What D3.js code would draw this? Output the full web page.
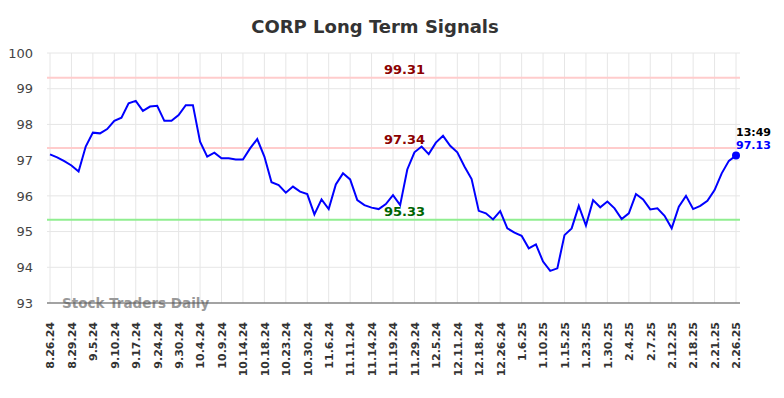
<!DOCTYPE html>
<html>
<head>
<meta charset="utf-8">
<script src="https://cdn.jsdelivr.net/npm/d3@7"></script>
<style>
  body { margin: 0; background: #fff; }
  svg { font-family: "DejaVu Sans", sans-serif; }
</style>
</head>
<body>
<div id="chart"></div>
<script>
// closing prices, one per session shown
var prices = [
  97.16, 97.08, 96.97, 96.85, 96.68, 97.38, 97.77, 97.75, 97.87, 98.10,
  98.19, 98.59, 98.66, 98.38, 98.50, 98.52, 98.10, 98.10, 98.26, 98.54,
  98.54, 97.52, 97.10, 97.21, 97.05, 97.05, 97.02, 97.02, 97.33, 97.59,
  97.10, 96.38, 96.30, 96.09, 96.26, 96.12, 96.05, 95.48, 95.90, 95.63,
  96.32, 96.63, 96.46, 95.88, 95.74, 95.67, 95.63, 95.77, 96.02, 95.74,
  96.74, 97.22, 97.38, 97.17, 97.49, 97.68, 97.40, 97.22, 96.82, 96.47,
  95.58, 95.51, 95.34, 95.57, 95.09, 94.97, 94.88, 94.53, 94.64, 94.16,
  93.90, 93.97, 94.90, 95.09, 95.72, 95.17, 95.88, 95.68, 95.84, 95.65,
  95.35, 95.51, 96.05, 95.90, 95.62, 95.65, 95.44, 95.09, 95.70, 96.00,
  95.63, 95.72, 95.86, 96.16, 96.63, 96.98, 97.13
];

// one label every third session
var tickLabels = [
  "8.26.24", "8.29.24", "9.5.24", "9.10.24", "9.17.24", "9.24.24", "9.30.24",
  "10.4.24", "10.9.24", "10.14.24", "10.18.24", "10.23.24", "10.30.24",
  "11.6.24", "11.11.24", "11.14.24", "11.19.24", "11.29.24", "12.5.24",
  "12.11.24", "12.18.24", "12.26.24", "1.6.25", "1.10.25", "1.15.25",
  "1.23.25", "1.30.25", "2.4.25", "2.7.25", "2.12.25", "2.18.25", "2.21.25",
  "2.26.25"
];

var yTicks = [93, 94, 95, 96, 97, 98, 99, 100];

var levels = [
  { value: 99.31, line: "#ffcccc", text: "#8b0000" },
  { value: 97.34, line: "#ffcccc", text: "#8b0000" },
  { value: 95.33, line: "#90ee90", text: "#006400" }
];

var lastTime = "13:49";

var W = 784, H = 398;
var margin = { top: 53, right: 44, bottom: 95, left: 47 };
var width = W - margin.left - margin.right,
    height = H - margin.top - margin.bottom;

var svg = d3.select("#chart").append("svg")
    .attr("width", W)
    .attr("height", H);

svg.append("text")
    .attr("x", 375)
    .attr("y", 33)
    .attr("text-anchor", "middle")
    .style("font-size", "18px")
    .style("font-weight", "bold")
    .style("fill", "#333")
    .text("CORP Long Term Signals");

var g = svg.append("g")
    .attr("transform", "translate(" + margin.left + "," + margin.top + ")");

var x = d3.scaleLinear()
    .domain([0, prices.length - 1])
    .range([3, width - 4]);

var y = d3.scaleLinear()
    .domain([93, 100])
    .range([height, 0]);

var tickIdx = tickLabels.map(function (d, i) { return i * 3; });

// grid
g.append("g").selectAll("line.v")
    .data(tickIdx)
    .enter().append("line")
    .attr("x1", function (d) { return x(d); })
    .attr("x2", function (d) { return x(d); })
    .attr("y1", 0)
    .attr("y2", height)
    .style("stroke", "#e6e6e6")
    .style("stroke-width", 1);

g.append("g").selectAll("line.h")
    .data(yTicks)
    .enter().append("line")
    .attr("x1", 0)
    .attr("x2", width)
    .attr("y1", function (d) { return y(d); })
    .attr("y2", function (d) { return y(d); })
    .style("stroke", "#e6e6e6")
    .style("stroke-width", 1);

// y labels
var yAxis = g.append("g")
    .call(d3.axisLeft(y).tickValues(yTicks).tickSize(0).tickPadding(14).tickFormat(d3.format("d")));
yAxis.select(".domain").remove();
yAxis.selectAll("text")
    .style("font-size", "13px")
    .style("fill", "#444")
    .style("font-family", "DejaVu Sans, sans-serif");

// x labels
var xAxis = g.append("g")
    .attr("transform", "translate(0," + height + ")")
    .call(d3.axisBottom(x).tickValues(tickIdx).tickSize(0)
        .tickFormat(function (d) { return tickLabels[d / 3]; }));
xAxis.select(".domain").remove();
xAxis.selectAll("text")
    .attr("transform", "rotate(-90)")
    .attr("text-anchor", "end")
    .attr("x", -19)
    .attr("y", 0)
    .attr("dy", "0.35em")
    .style("font-size", "11px")
    .style("font-weight", "bold")
    .style("fill", "#333")
    .style("font-family", "DejaVu Sans, sans-serif");

// watermark
g.append("text")
    .attr("x", 15)
    .attr("y", height + 5)
    .style("font-size", "13.5px")
    .style("font-weight", "bold")
    .style("fill", "#999")
    .text("Stock Traders Daily");

// bottom axis line
g.append("line")
    .attr("x1", 0)
    .attr("x2", width)
    .attr("y1", height)
    .attr("y2", height)
    .style("stroke", "#555")
    .style("stroke-width", 1.2);

// signal levels
g.selectAll("line.level")
    .data(levels)
    .enter().append("line")
    .attr("x1", 0)
    .attr("x2", width)
    .attr("y1", function (d) { return y(d.value); })
    .attr("y2", function (d) { return y(d.value); })
    .style("stroke", function (d) { return d.line; })
    .style("stroke-width", 2);

// price line
var line = d3.line()
    .x(function (d, i) { return x(i); })
    .y(function (d) { return y(d); });

g.append("path")
    .datum(prices)
    .attr("d", line)
    .style("fill", "none")
    .style("stroke", "#0000ff")
    .style("stroke-width", 2);

g.selectAll("text.level")
    .data(levels)
    .enter().append("text")
    .attr("x", 337)
    .attr("y", function (d) { return y(d.value) - 4; })
    .style("font-size", "13px")
    .style("font-weight", "bold")
    .style("fill", function (d) { return d.text; })
    .text(function (d) { return d.value.toFixed(2); });

var last = prices.length - 1;
g.append("circle")
    .attr("cx", x(last))
    .attr("cy", y(prices[last]))
    .attr("r", 4)
    .style("fill", "#0000ff");

g.append("text")
    .attr("x", x(last))
    .attr("y", y(prices[last]) - 20)
    .style("font-size", "11px")
    .style("font-weight", "bold")
    .style("fill", "#000")
    .text(lastTime);

g.append("text")
    .attr("x", x(last))
    .attr("y", y(prices[last]) - 7)
    .style("font-size", "11px")
    .style("font-weight", "bold")
    .style("fill", "#0000ff")
    .text(prices[last].toFixed(2));
</script>
</body>
</html>
